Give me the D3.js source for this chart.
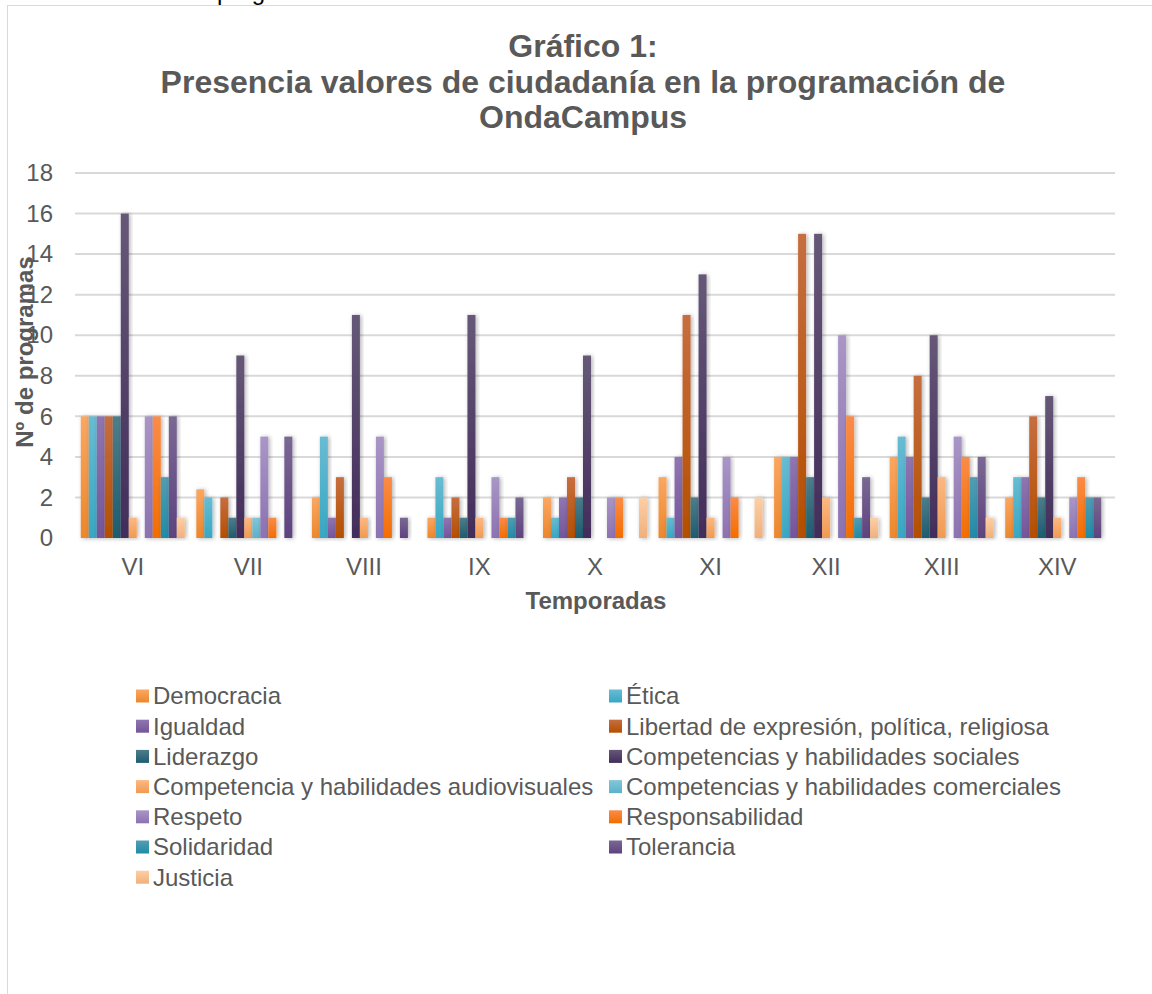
<!DOCTYPE html>
<html>
<head>
<meta charset="utf-8">
<title>Gráfico 1</title>
<script src="https://d3js.org/d3.v7.min.js"></script>
<style>
  body, html { margin: 0; padding: 0; background: #fff; }
  svg { display: block; font-family: "Liberation Sans", Arial, sans-serif; }
</style>
</head>
<body>
<svg id="chart" width="1152" height="994"></svg>
<script>
// Temporadas
const seasons = ["VI", "VII", "VIII", "IX", "X", "XI", "XII", "XIII", "XIV"];

// Series names (legend order)
const seriesNames = [
  "Democracia", "Ética", "Igualdad", "Libertad de expresión, política, religiosa",
  "Liderazgo", "Competencias y habilidades sociales",
  "Competencia y habilidades audiovisuales", "Competencias y habilidades comerciales",
  "Respeto", "Responsabilidad", "Solidaridad", "Tolerancia", "Justicia"
];

// Values per season, one entry per series
const democracia      = [6, 2.4, 2, 1, 2, 3, 4, 4, 2];
const etica           = [6, 2, 5, 3, 1, 1, 4, 5, 3];
const igualdad        = [6, 0, 1, 1, 2, 4, 4, 4, 3];
const libertad        = [6, 2, 3, 2, 3, 11, 15, 8, 6];
const liderazgo       = [6, 1, 0, 1, 2, 2, 3, 2, 2];
const compSociales    = [16, 9, 11, 11, 9, 13, 15, 10, 7];
const compAudiovis    = [1, 1, 1, 1, 0, 1, 2, 3, 1];
const compComerciales = [0, 1, 0, 0, 0, 0, 0, 0, 0];
const respeto         = [6, 5, 5, 3, 2, 4, 10, 5, 2];
const responsabilidad = [6, 1, 3, 1, 2, 2, 6, 4, 3];
const solidaridad     = [3, 0, 0, 1, 0, 0, 1, 3, 2];
const tolerancia      = [6, 5, 1, 2, 0, 0, 3, 4, 2];
const justicia        = [1, 0, 0, 0, 2, 2, 1, 1, 0];

const yTicks = [0, 2, 4, 6, 8, 10, 12, 14, 16, 18];

const seriesValues = [democracia, etica, igualdad, libertad, liderazgo, compSociales,
  compAudiovis, compComerciales, respeto, responsabilidad, solidaridad, tolerancia, justicia];

// gradient colours [top, bottom] per series
const seriesColors = [
  ["#faa762", "#ec872c"], ["#68bcd3", "#38a7c3"], ["#8f76b0", "#74559a"],
  ["#c66e40", "#b44f00"], ["#4e7d8b", "#1d5d6f"], ["#665877", "#422d5b"],
  ["#fcb882", "#f09a52"], ["#82c6d8", "#5bb2ca"], ["#a996c6", "#8c72b1"],
  ["#fa8c48", "#f36d00"], ["#529db2", "#218ba7"], ["#7a6893", "#5e437f"],
  ["#fdcfa5", "#f0b07c"]
];

const textColor = "#595959";

const svg = d3.select("#chart");

// Data table for the bars
const data = seasons.map((s, i) => ({
  season: s,
  values: seriesNames.map((n, j) => ({ name: n, idx: j, value: seriesValues[j][i] }))
}));

// Definitions: gradients and shadow
const defs = svg.append("defs");
seriesColors.forEach((c, j) => {
  const g = defs.append("linearGradient")
      .attr("id", "grad" + j)
      .attr("x1", 0).attr("y1", 0).attr("x2", 0).attr("y2", 1);
  g.append("stop").attr("offset", "0%").attr("stop-color", c[0]);
  g.append("stop").attr("offset", "100%").attr("stop-color", c[1]);
});
defs.append("filter")
    .attr("id", "shadow")
    .attr("x", "-50%").attr("y", "-10%").attr("width", "200%").attr("height", "120%")
  .append("feDropShadow")
    .attr("dx", 1.5).attr("dy", 0.5)
    .attr("stdDeviation", 2)
    .attr("flood-color", "#000")
    .attr("flood-opacity", 0.3);

// Fragment of document text cut off at the top
svg.append("text")
    .attr("x", 217).attr("y", 0)
    .style("font-size", "24px")
    .attr("fill", "#000")
    .text("programa");

// Chart border
svg.append("rect")
    .attr("x", 7.5).attr("y", 5.5)
    .attr("width", 1160).attr("height", 1000)
    .attr("fill", "none")
    .attr("stroke", "#d9d9d9")
    .attr("stroke-width", 1);

// Title
const titleLines = ["Gráfico 1:", "Presencia valores de ciudadanía en la programación de", "OndaCampus"];
svg.append("g").selectAll("text")
    .data(titleLines)
  .enter().append("text")
    .attr("x", 583)
    .attr("y", (d, i) => 57 + i * 35.5)
    .attr("text-anchor", "middle")
    .attr("fill", textColor)
    .style("font-size", "32px")
    .style("font-weight", "bold")
    .text(d => d);

// Scales
const margin = { left: 75, right: 1115, top: 173, bottom: 538 };

const x0 = d3.scaleBand()
    .domain(seasons)
    .range([margin.left, margin.right]);

const x1 = d3.scaleBand()
    .domain(d3.range(seriesNames.length))
    .range([0, x0.bandwidth()])
    .paddingOuter(0.72);

const y = d3.scaleLinear()
    .domain([0, 18])
    .range([margin.bottom, margin.top]);

// Gridlines
svg.append("g").selectAll("line")
    .data(yTicks.filter(d => d > 0))
  .enter().append("line")
    .attr("x1", margin.left).attr("x2", margin.right)
    .attr("y1", d => y(d)).attr("y2", d => y(d))
    .attr("stroke", "#d9d9d9")
    .attr("stroke-width", 2);

// Y axis labels
const yAxis = svg.append("g")
    .attr("transform", "translate(" + (margin.left - 22) + ",0)")
    .call(d3.axisLeft(y).tickValues(yTicks).tickSize(0).tickPadding(0));
yAxis.select(".domain").remove();
yAxis.selectAll("text")
    .attr("fill", textColor)
    .style("font-size", "24px")
    .style("font-family", "Liberation Sans, Arial, sans-serif");

// Bars
const groups = svg.append("g").selectAll("g")
    .data(data)
  .enter().append("g")
    .attr("transform", d => "translate(" + x0(d.season) + ",0)");

groups.selectAll("rect")
    .data(d => d.values.filter(v => v.value > 0))
  .enter().append("rect")
    .attr("x", d => x1(d.idx))
    .attr("width", x1.bandwidth())
    .attr("y", d => y(d.value))
    .attr("height", d => y(0) - y(d.value))
    .attr("fill", d => "url(#grad" + d.idx + ")")
    .attr("filter", "url(#shadow)");

// X axis line
svg.append("line")
    .attr("x1", margin.left).attr("x2", margin.right)
    .attr("y1", y(0) + 1).attr("y2", y(0) + 1)
    .attr("stroke", "#d0d0d0")
    .attr("stroke-width", 2.5)
    .attr("filter", "url(#shadow)");

// X axis labels
const xAxis = svg.append("g")
    .attr("transform", "translate(0," + (y(0) + 20) + ")")
    .call(d3.axisBottom(x0).tickSize(0).tickPadding(0));
xAxis.select(".domain").remove();
xAxis.selectAll("text")
    .attr("fill", textColor)
    .style("font-size", "24px")
    .style("font-family", "Liberation Sans, Arial, sans-serif");

// Axis titles
svg.append("text")
    .attr("x", 596).attr("y", 609)
    .attr("text-anchor", "middle")
    .attr("fill", textColor)
    .style("font-size", "24px")
    .style("font-weight", "bold")
    .text("Temporadas");

svg.append("text")
    .attr("transform", "translate(33,352)rotate(-90)")
    .attr("text-anchor", "middle")
    .attr("fill", textColor)
    .style("font-size", "24px")
    .style("font-weight", "bold")
    .text("Nº de programas");

// Legend, two columns
const legendCols = [136, 609];
const legend = svg.append("g").selectAll("g")
    .data(seriesNames)
  .enter().append("g")
    .attr("transform", (d, i) => "translate(" + legendCols[i % 2] + "," + (696 + Math.floor(i / 2) * 30.2) + ")");

legend.append("rect")
    .attr("x", 0).attr("y", -6.5)
    .attr("width", 13).attr("height", 13)
    .attr("fill", (d, i) => "url(#grad" + i + ")");

legend.append("text")
    .attr("x", 17).attr("y", 0)
    .attr("dy", "0.35em")
    .attr("fill", textColor)
    .style("font-size", "24px")
    .text(d => d);
</script>
</body>
</html>
